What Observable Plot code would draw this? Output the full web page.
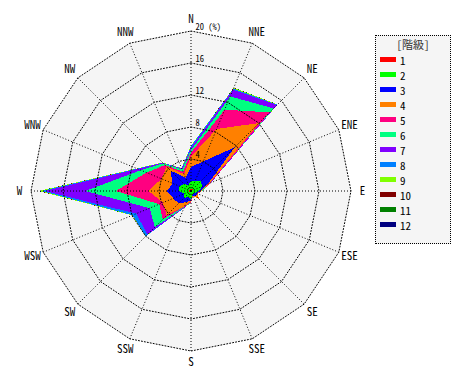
<!DOCTYPE html>
<html><head><meta charset="utf-8">
<script src="https://cdn.jsdelivr.net/npm/d3@7"></script>
<script src="https://cdn.jsdelivr.net/npm/@observablehq/plot@0.6"></script>
<style>
body{margin:0;background:#fff;}
#wrap{position:relative;width:470px;height:380px;}
#legend{position:absolute;left:375px;top:35px;width:74px;height:207px;border:1px dotted #000;background:#f5f5f5;font-family:"Noto Sans Mono CJK JP","DejaVu Sans Mono",monospace;font-size:11px;color:#000;}
#legend .t{position:absolute;left:0;width:74px;text-align:center;top:2px;height:12px;line-height:12px;font-size:11px;color:#333;}
#legend .sw{position:absolute;left:4px;width:16px;height:5px;}
#legend .lb{position:absolute;left:24px;height:12px;line-height:12px;}
</style></head><body><div id="wrap"></div>
<script>
const directions = ["N","NNE","NE","ENE","E","ESE","SE","SSE","S","SSW","SW","WSW","W","WNW","NW","NNW"];
const classes = ["1","2","3","4","5","6","7","8","9","10","11","12"];
const classColors = ["#ff0000","#00ff00","#0000ff","#ff8000","#ff0080","#00ff80","#8000ff","#0080ff","#80ff00","#800000","#008000","#000080"];
// frequency (%) per class, per direction (N, NNE, ... NNW)
const class1  = [0.3,0.3,0.3,0.2,0.2,0.1,0.1,0.1,0.1,0.2,0.2,0.2,0.3,0.3,0.2,0.2];
const class2  = [1.0,1.0,1.4,1.3,0.8,0.5,0.4,0.4,0.9,0.6,1.0,0.7,1.2,1.3,1.0,0.6];
const class3  = [1.7,2.7,6.0,0.8,0.2,0.2,0.4,0.1,0.2,0.7,1.0,1.5,1.5,0.9,2.4,1.0];
const class4  = [1.3,4.4,4.3,0.2,0.1,0.1,0.5,0.1,0.1,0.5,2.1,1.4,2.3,1.5,0.7,0.5];
const class5  = [0.5,2.6,1.9,0.1,0.05,0,0,0,0.1,0.1,0.7,0.5,4.1,2.0,0.3,0.3];
const class6  = [0.3,1.8,0.7,0,0.05,0,0,0,0.1,0.1,1.4,1.3,3.8,0.8,0.3,0.3];
const class7  = [0.3,0.9,0.6,0.1,0,0,0,0,0,0.1,1.3,1.8,5.1,0.4,0.1,0.1];
const class8  = [0.2,0.15,0.05,0,0,0,0,0,0,0,0.3,0.5,0.4,0.1,0,0.05];
const class9  = [0.05,0.1,0.05,0,0,0,0,0,0,0,0.05,0.05,0.3,0.05,0.05,0.05];
const class10 = [0,0.02,0,0,0,0,0,0,0,0,0,0,0.03,0,0,0];
const class11 = [0,0.02,0,0,0,0,0,0,0,0,0,0,0.02,0,0,0];
const class12 = [0,0,0,0,0,0,0,0,0,0,0,0,0.01,0,0,0];
const ringValues = [4,8,12,16,20];
const tickLabels = ["4","8","12","16","20 (%)"];
const legendTitle = "[階級]";

const classValues = [class1,class2,class3,class4,class5,class6,class7,class8,class9,class10,class11,class12];

// layout
const W = 470, H = 380, CX = 190.5, CY = 190.5, K = 8; // px per %
const ang = i => i * 2 * Math.PI / directions.length;
const px = (r, i) => r * Math.sin(ang(i));
const py = (r, i) => r * Math.cos(ang(i));

// cumulative stacking of classes
const cumulative = [];
let run = directions.map(() => 0);
classValues.forEach(vals => { run = run.map((r, i) => r + vals[i]); cumulative.push(run.slice()); });

const polys = [];
for (let k = classes.length - 1; k >= 0; k--) {
  directions.forEach((d, i) => polys.push({cls: classes[k], r: cumulative[k][i], i}));
}
const rings = [];
ringValues.forEach(v => directions.forEach((d, i) => rings.push({ring: v, r: v, i})));
const outer = directions.map((d, i) => ({r: ringValues[ringValues.length - 1], i}));
const spokes = directions.map((d, i) => ({d, i}));
const ticks = ringValues.map((v, j) => ({v, label: tickLabels[j]}));

const mono = "'Noto Sans Mono CJK JP','DejaVu Sans Mono',monospace";

const chart = Plot.plot({
  width: W, height: H, margin: 0,
  x: {domain: [-CX / K, (W - CX) / K], axis: null},
  y: {domain: [-(H - CY) / K, CY / K], axis: null},
  color: {domain: classes, range: classColors},
  style: {background: "transparent"},
  marks: [
    Plot.line(outer, {x: d => px(d.r, d.i), y: d => py(d.r, d.i), fill: "#f5f5f5", stroke: "none", curve: "linear-closed"}),
    Plot.line(polys, {x: d => px(d.r, d.i), y: d => py(d.r, d.i), z: "cls", fill: "cls", stroke: "none", curve: "linear-closed", shapeRendering: "crispEdges"}),
    Plot.line(rings, {x: d => px(d.r, d.i), y: d => py(d.r, d.i), z: "ring", stroke: "#000", strokeWidth: 1, strokeDasharray: "1,2", curve: "linear-closed"}),
    Plot.link(spokes, {x1: () => 0, y1: () => 0, x2: d => px(20, d.i), y2: d => py(20, d.i), stroke: "#000", strokeWidth: 1, strokeDasharray: "1,2"}),
    Plot.text(spokes, {x: d => px(21.45, d.i), y: d => py(21.45, d.i), text: "d", fontSize: 11, fontFamily: mono, fill: "#000"}),
    Plot.text(ticks, {x: () => 0, y: d => d.v, text: "label", textAnchor: "start", dx: 4.5, dy: -3.5, fontSize: 8.5, fontFamily: mono, fill: "#000"})
  ]
});
const wrap = document.getElementById("wrap");
wrap.appendChild(chart);

// legend
const lg = document.createElement("div");
lg.id = "legend";
const t = document.createElement("div"); t.className = "t"; t.textContent = legendTitle; lg.appendChild(t);
classes.forEach((c, k) => {
  const s = document.createElement("div"); s.className = "sw"; s.style.top = (21 + 15 * k) + "px"; s.style.background = classColors[k]; lg.appendChild(s);
  const l = document.createElement("div"); l.className = "lb"; l.style.top = (17.5 + 15 * k) + "px"; l.textContent = c; lg.appendChild(l);
});
wrap.appendChild(lg);
</script></body></html>
